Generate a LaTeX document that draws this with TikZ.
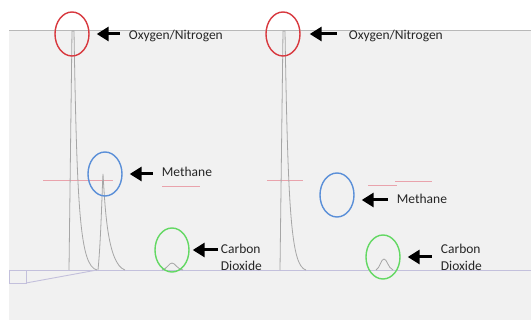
\documentclass[tikz,border=0pt]{standalone}
\usepackage{fontspec}
\setmainfont{Carlito}
\usetikzlibrary{shapes,shapes.geometric,positioning,arrows.meta}
\usepackage{xcolor}

\definecolor{bggray}{HTML}{F1F1F1}
\definecolor{axisgray}{HTML}{B8B8B8}
\definecolor{tracegray}{HTML}{A6A6A6}
\definecolor{baselav}{HTML}{C3C0DC}
\definecolor{markred}{HTML}{E9A3AC}
\definecolor{ringred}{HTML}{D8383E}
\definecolor{ringblue}{HTML}{5A8FD8}
\definecolor{ringgreen}{HTML}{63D863}

\begin{document}
\begin{tikzpicture}[x=1pt, y=-1pt, node distance=30pt]
    \tikzstyle{ring} = [ellipse, draw, line width=1.4pt, minimum width=34pt,
    minimum height=44pt, inner sep=0pt]
    \tikzstyle{tag} = [inner sep=0pt, text=black!85, align=left,
               font=\fontsize{13.5}{17}\selectfont]
    \tikzstyle{pointer} = [draw, line width=3pt,
    -{Triangle[length=12pt, width=14pt]}, shorten >=7pt, shorten <=9pt]
    \tikzstyle{trace} = [draw=tracegray, line width=0.8pt]
    \tikzstyle{redtick} = [draw=markred, line width=0.6pt]

    \useasboundingbox (0,0) rectangle (531,320);

    % Define background
    \fill [white] (0,0) rectangle (531,320);
    \fill [bggray] (9,31) rectangle (531,320);
    \draw [axisgray, line width=1pt] (9,31) -- (531,31);

    % Draw baseline
    \draw [baselav, line width=0.9pt] (9,270) -- (531,270);
    \draw [baselav, line width=0.9pt] (9,270) -- (9,283) -- (26,283) -- (26,270);
    \draw [baselav, line width=0.9pt] (26,283) -- (97,270);

    % Draw red markers
    \draw [redtick] (43,180) -- (113,180);
    \draw [redtick] (162,186) -- (200,186);
    \draw [redtick] (267,180) -- (303,180);
    \draw [redtick] (368,185) -- (397,185);
    \draw [redtick] (395,181) -- (432,181);

    % Draw peaks (left run)
    \draw [trace] (69,270) -- (72,31) -- (74,31)
    .. controls (77,210) and (80,266) .. (97,270);
    \draw [trace] (98,270) .. controls (101,240) and (102,190) .. (103,174)
    .. controls (105,205) and (107,264) .. (125,270);
    \draw [trace] (162,270) .. controls (167,269) and (169,263) .. (172,263)
    .. controls (175,263) and (177,269) .. (183,270);

    % Draw peaks (right run)
    \draw [trace] (280,270) -- (283,31) -- (285,31)
    .. controls (288,210) and (291,266) .. (306,270);
    \draw [trace] (376,270) .. controls (380,268) and (381,259) .. (384,259)
    .. controls (387,259) and (388,268) .. (393,270);

    % Define rings
    \node [ring, draw=ringred] (ox1) at (72,34) {};
    \node [ring, draw=ringred] (ox2) at (283,34) {};
    \node [ring, draw=ringblue] (me1) at (105,174) {};
    \node [ring, draw=ringblue] (me2) at (337,195) {};
    \node [ring, draw=ringgreen] (co1) at (172,250) {};
    \node [ring, draw=ringgreen] (co2) at (383,257) {};

    % Define labels
    \node [tag, right=39pt of ox1, yshift=-2pt] (ox1lbl) {Oxygen/Nitrogen};
    \node [tag, right=48pt of ox2, yshift=-2pt] (ox2lbl) {Oxygen/Nitrogen};
    \node [tag, right=39pt of me1, yshift=2pt] (me1lbl) {Methane};
    \node [tag, right=42pt of me2, yshift=-4pt] (me2lbl) {Methane};
    \node [tag, right=31pt of co1, yshift=-7pt] (co1lbl) {Carbon\\Dioxide};
    \node [tag, right=40pt of co2] (co2lbl) {Carbon\\Dioxide};

    % Draw arrows
    \draw [pointer] (ox1.east -| ox1lbl.west) -- (ox1.east);
    \draw [pointer, shorten <=12pt, shorten >=9pt] (ox2.east -| ox2lbl.west) -- (ox2.east);
    \draw [pointer] (me1.east -| me1lbl.west) -- (me1.east);
    \draw [pointer] ([yshift=-5pt]me2.east -| me2lbl.west) -- ([yshift=-5pt]me2.east);
    \draw [pointer, shorten <=3pt, shorten >=3pt] (co1.east -| co1lbl.west) -- (co1.east);
    \draw [pointer] (co2.east -| co2lbl.west) -- (co2.east);

  \end{tikzpicture}
\end{document}
